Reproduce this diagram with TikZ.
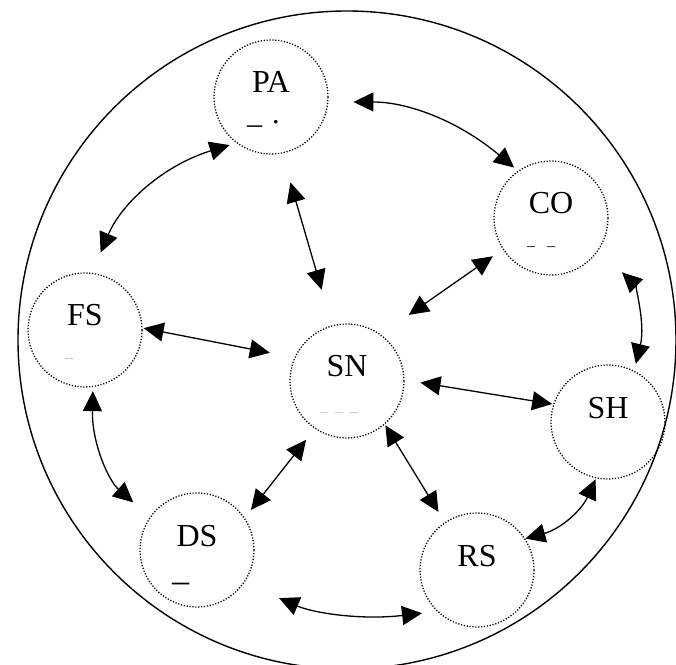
\documentclass[tikz,border=0pt]{standalone}
\usepackage{fontspec}
\setmainfont{Liberation Serif}
\usetikzlibrary{arrows.meta}

\begin{document}
\begin{tikzpicture}[x=1pt, y=1pt,
	part/.style={circle, draw, line width=1.3pt, dash pattern=on 1.2pt off 1.7pt, minimum size=114pt, inner sep=0pt, text height=21pt, text depth=29pt, font=\fontsize{32}{38}\selectfont},
	mark/.style={anchor=base west, inner sep=0pt, font=\fontsize{#1}{#1}\selectfont},
	link/.style={line width=1.3pt, {Triangle[length=20pt,width=19pt]}-{Triangle[length=20pt,width=19pt]}}]
	\useasboundingbox (0,0) rectangle (676,664);
	\draw[line width=1.4pt] (347,324) circle (329pt);
	% the seven parts
	\foreach \n/\x/\y in {PA/271/567, CO/551/446, FS/85/334, SN/347/283, DS/197/114, RS/477/94, SH/608/242}
		\node[part] (\n) at (\x,\y) {\n};
	% small marks under the names
	\node[mark=30] (PAmk) at (247,540) {\_\hspace{10pt}.};
	\node[mark=16] (COmk) at (527,418) {\_\hspace{12pt}\_};
	\node[mark=16, text=gray!60] (FSmk) at (65,306) {\_};
	\node[mark=16, text=gray!50] (SNmk) at (320,252) {\_\hspace{7pt}\_\hspace{7pt}\_};
	\node[mark=34] (DSmk) at (172,84) {\_};
	% links
	\foreach \a/\p/\sa/\b/\q/\sb/\bl in {PA/-5/25/CO/125/5/20, PA/-127/7/FS/83/22/-25, PA/-79/30/SN/105/37/0,
			CO/213/12/SN/54/34/0, CO/-34/32/SH/63/7/30, FS/2/1/SN/156/25/0, SN/1/16/SH/162/1/0,
			FS/-82/4/DS/145/22/-25, SN/-124/14/DS/34/10/0, SN/-49/1/RS/124/12/0,
			SH/-102/1/RS/33/0/25, DS/-35/38/RS/226/15/-15}
		\draw[link, shorten <=\sa pt, shorten >=\sb pt] (\a.\p) to[bend left=\bl] (\b.\q);
\end{tikzpicture}
\end{document}
